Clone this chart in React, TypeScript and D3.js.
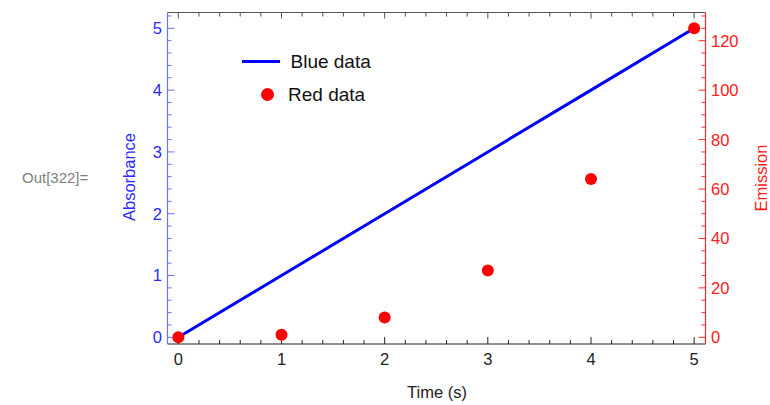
import React from 'react';
import * as d3 from 'd3';

// data
const times = [0, 1, 2, 3, 4, 5];
const absorbance = [0, 1, 2, 3, 4, 5];
const emission = [0, 1, 8, 27, 64, 125];

const xTicks = [0, 1, 2, 3, 4, 5];
const leftTicks = [0, 1, 2, 3, 4, 5];
const rightTicks = [0, 20, 40, 60, 80, 100, 120];

const width = 770;
const height = 405;
const plot = { left: 167.5, right: 705.5, top: 12.5, bottom: 344 };

const font = '"Liberation Sans", Arial, sans-serif';
const blueAxis = '#7070ff';
const blueText = '#2a2aff';
const redAxis = '#ff2a2a';
const redText = '#ff2020';

const App = () => {
    const x = d3.scaleLinear().domain([-0.105, 5.11]).range([plot.left, plot.right]);
    const yL = d3.scaleLinear().domain([-0.108, 5.256]).range([plot.bottom, plot.top]);
    const yR = d3.scaleLinear().domain([-0.108 * 25, 5.256 * 25]).range([plot.bottom, plot.top]);

    const inDom = (s: d3.ScaleLinear<number, number>) => (v: number) => {
        const [a, b] = s.domain();
        return v >= Math.min(a, b) && v <= Math.max(a, b);
    };

    const xMinor = d3.range(-1, 27).map(i => +(i * 0.2).toFixed(2)).filter(inDom(x)).filter(v => !xTicks.includes(v));
    const lMinor = d3.range(-1, 27).map(i => +(i * 0.2).toFixed(2)).filter(inDom(yL)).filter(v => !leftTicks.includes(v));
    const rMinor = d3.range(-1, 28).map(i => i * 5).filter(inDom(yR)).filter(v => !rightTicks.includes(v));

    const line = d3.line<number>()
        .x((_, i) => x(times[i]))
        .y(d => yL(d));

    const major = 7;
    const minor = 4;

    return (
        <svg width={width} height={height} style={{ position: 'absolute', left: 0, top: 0, background: '#fff' }}
            fontFamily={font}>
            <text x={22} y={183} fontSize={15} fill="#808080">Out[322]=</text>

            {/* top frame */}
            <line x1={plot.left} x2={plot.right} y1={plot.top} y2={plot.top} stroke="#555" strokeWidth={1} />
            {xTicks.map(t => (
                <line key={'tt' + t} x1={x(t)} x2={x(t)} y1={plot.top} y2={plot.top + major - 1} stroke="#555" />
            ))}
            {xMinor.map(t => (
                <line key={'tm' + t} x1={x(t)} x2={x(t)} y1={plot.top} y2={plot.top + minor} stroke="#555" />
            ))}

            {/* bottom axis */}
            <line x1={plot.left} x2={plot.right} y1={plot.bottom} y2={plot.bottom} stroke="#222" strokeWidth={1.2} />
            {xTicks.map(t => (
                <g key={'bt' + t}>
                    <line x1={x(t)} x2={x(t)} y1={plot.bottom} y2={plot.bottom - major} stroke="#222" />
                    <text x={x(t)} y={365} textAnchor="middle" fontSize={16.5} fill="#222">{t}</text>
                </g>
            ))}
            {xMinor.map(t => (
                <line key={'bm' + t} x1={x(t)} x2={x(t)} y1={plot.bottom} y2={plot.bottom - minor} stroke="#222" />
            ))}
            <text x={437} y={398} textAnchor="middle" fontSize={16.5} fill="#222">Time (s)</text>

            {/* left axis */}
            <line x1={plot.left} x2={plot.left} y1={plot.top} y2={plot.bottom} stroke={blueAxis} strokeWidth={1.2} />
            {leftTicks.map(t => (
                <g key={'lt' + t}>
                    <line x1={plot.left} x2={plot.left + major} y1={yL(t)} y2={yL(t)} stroke={blueAxis} />
                    <text x={162} y={yL(t)} dy="0.36em" textAnchor="end" fontSize={16.5} fill={blueText}>{t}</text>
                </g>
            ))}
            {lMinor.map(t => (
                <line key={'lm' + t} x1={plot.left} x2={plot.left + minor} y1={yL(t)} y2={yL(t)} stroke={blueAxis} />
            ))}
            <text transform="translate(135,177) rotate(-90)" textAnchor="middle" fontSize={16.5} fill={blueText}>Absorbance</text>

            {/* right axis */}
            <line x1={plot.right} x2={plot.right} y1={plot.top} y2={plot.bottom} stroke={redAxis} strokeWidth={1.2} />
            {rightTicks.map(t => (
                <g key={'rt' + t}>
                    <line x1={plot.right} x2={plot.right - major} y1={yR(t)} y2={yR(t)} stroke={redAxis} />
                    <text x={711} y={yR(t)} dy="0.36em" textAnchor="start" fontSize={16.5} fill={redText}>{t}</text>
                </g>
            ))}
            {rMinor.map(t => (
                <line key={'rm' + t} x1={plot.right} x2={plot.right - minor} y1={yR(t)} y2={yR(t)} stroke={redAxis} />
            ))}
            <text transform="translate(767,178) rotate(-90)" textAnchor="middle" fontSize={16.5} fill={redText}>Emission</text>

            {/* data */}
            <path d={line(absorbance) || ''} fill="none" stroke="#0000ff" strokeWidth={3} />
            {emission.map((v, i) => (
                <circle key={'p' + i} cx={x(times[i])} cy={yR(v)} r={6} fill="#ff0000" />
            ))}

            {/* legend */}
            <line x1={242} x2={280} y1={61.5} y2={61.5} stroke="#0000ff" strokeWidth={3} />
            <text x={290.5} y={68} fontSize={19} fill="#111">Blue data</text>
            <circle cx={267.5} cy={94.5} r={6.5} fill="#ff0000" />
            <text x={288} y={101} fontSize={19} fill="#111">Red data</text>
        </svg>
    );
};

export default App;
